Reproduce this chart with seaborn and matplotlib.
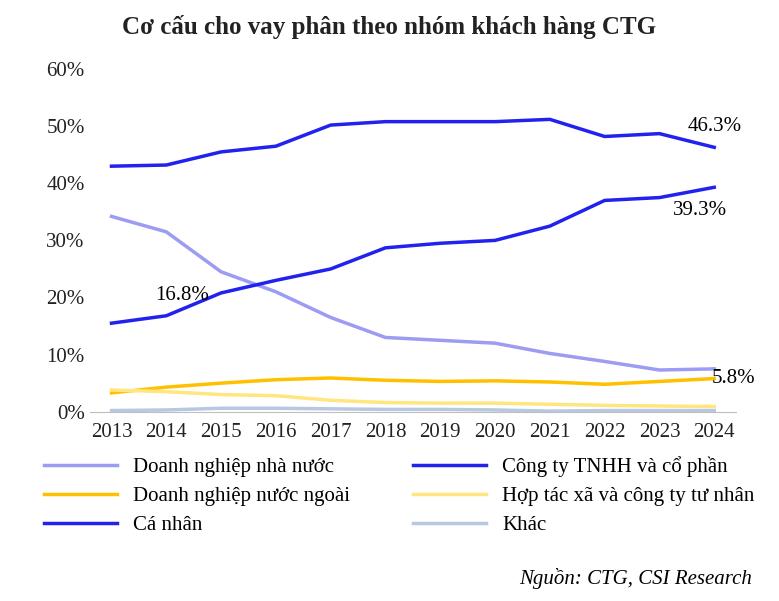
import matplotlib
matplotlib.use("Agg")
import matplotlib.pyplot as plt
import seaborn as sns
import pandas as pd
from matplotlib.ticker import FuncFormatter

years = list(range(2013, 2025))
dnnn = [34.2, 31.5, 24.5, 21.0, 16.5, 13.0, 12.5, 12.0, 10.2, 8.8, 7.3, 7.5]
cty_tnhh = [15.5, 16.8, 20.8, 23.0, 25.0, 28.7, 29.5, 30.0, 32.5, 37.0, 37.5, 39.3]
dn_nuoc_ngoai = [3.3, 4.3, 5.0, 5.6, 5.9, 5.5, 5.3, 5.4, 5.2, 4.8, 5.3, 5.8]
htx = [3.8, 3.5, 3.0, 2.8, 2.0, 1.6, 1.5, 1.5, 1.3, 1.1, 1.0, 0.9]
ca_nhan = [43.0, 43.2, 45.5, 46.5, 50.2, 50.8, 50.8, 50.8, 51.2, 48.2, 48.7, 46.3]
khac = [0.2, 0.3, 0.6, 0.6, 0.5, 0.4, 0.4, 0.3, 0.1, 0.2, 0.2, 0.2]

series = {
    "Doanh nghiệp nhà nước": (dnnn, "#9c9cf2"),
    "Công ty TNHH và cổ phần": (cty_tnhh, "#2222ee"),
    "Doanh nghiệp nước ngoài": (dn_nuoc_ngoai, "#ffc000"),
    "Hợp tác xã và công ty tư nhân": (htx, "#ffe680"),
    "Cá nhân": (ca_nhan, "#2222ee"),
    "Khác": (khac, "#b8c8e2"),
}

plt.rcParams["font.family"] = "Liberation Serif"
fig = plt.figure(figsize=(7.79, 6.01), dpi=100)
ax = fig.add_axes([0.115, 0.315, 0.83, 0.57])

for name, (vals, color) in series.items():
    df = pd.DataFrame({"year": years, "value": vals})
    sns.lineplot(data=df, x="year", y="value", ax=ax, color=color, lw=2.5, label=name)

ax.set_ylim(0, 60)
ax.set_xlim(2012.6, 2024.4)
ax.set_xticks(years)
ax.set_yticks(range(0, 61, 10))
ax.yaxis.set_major_formatter(FuncFormatter(lambda v, p: f"{v:.0f}%"))
ax.tick_params(labelsize=15, length=0, colors="#222222")
ax.tick_params(axis="x", pad=8)
ax.set_xlabel("")
ax.set_ylabel("")
for s in ["top", "right", "left"]:
    ax.spines[s].set_visible(False)
ax.spines["bottom"].set_color("#bfbfbf")

ax.annotate("46.3%", (2024, 46.3), xytext=(0, 8), textcoords="offset points", ha="center", va="bottom", fontsize=15)
ax.annotate("39.3%", (2024, 39.3), xytext=(-10, -10), textcoords="offset points", ha="center", va="top", fontsize=15)
ax.annotate("16.8%", (2014, 16.8), xytext=(-8, 8), textcoords="offset points", ha="left", va="bottom", fontsize=15)
ax.annotate("5.8%", (2024, 5.8), xytext=(-2, 0), textcoords="offset points", ha="left", va="center", fontsize=15)

# matplotlib fills legend column-wise; reorder so it reads row-wise
handles, labels = ax.get_legend_handles_labels()
order = [0, 2, 4, 1, 3, 5]
ax.legend([handles[i] for i in order], [labels[i] for i in order],
          loc="upper left", bbox_to_anchor=(-0.1, -0.075), ncol=2, frameon=False,
          fontsize=15, handlelength=3.5, columnspacing=3, labelspacing=0.45)

fig.suptitle("Cơ cấu cho vay phân theo nhóm khách hàng CTG", x=0.5, y=0.975,
             fontsize=18, fontweight="bold", color="#222222")
fig.text(0.965, 0.02, "Nguồn: CTG, CSI Research", ha="right", va="bottom",
         fontsize=15, style="italic")
fig.savefig("out.png", dpi=100)
